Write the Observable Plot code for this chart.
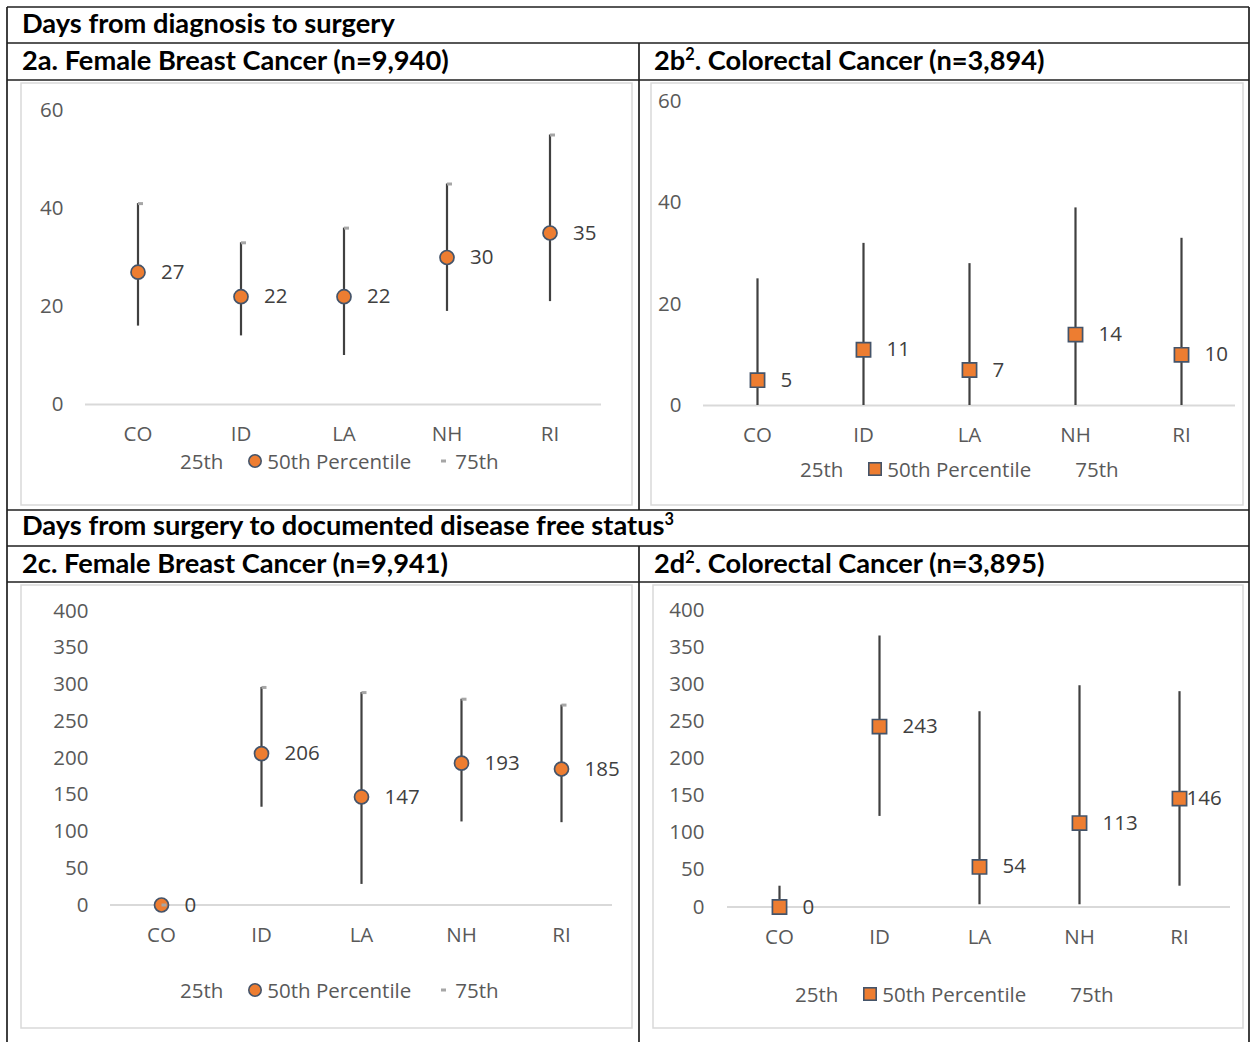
<!DOCTYPE html>
<html><head><meta charset="utf-8">
<script src="https://cdn.jsdelivr.net/npm/d3@7"></script>
<script src="https://cdn.jsdelivr.net/npm/@observablehq/plot@0.6"></script>
<style>
body{margin:0;background:#fff;width:1256px;height:1042px;overflow:hidden;position:relative;font-family:"Open Sans",sans-serif;}
#bg{position:absolute;left:0;top:0;}
.plot{position:absolute;}
.legend{position:absolute;display:flex;align-items:center;height:24px;line-height:24px;font-size:20.5px;color:#595959;white-space:nowrap;font-family:"Open Sans",sans-serif;}
.legend .sym{width:14px;height:14px;margin-right:5px;display:block;}
.legend .item{display:flex;align-items:center;margin-right:25px;}
</style></head><body>
<svg id="bg" width="1256" height="1042"></svg>
<script>
// ---- data ----
const states = ["CO", "ID", "LA", "NH", "RI"];
const breastDxP25 = [16, 14, 10, 19, 21];
const breastDxMedian = [27, 22, 22, 30, 35];
const breastDxP75 = [41, 33, 36, 45, 55];
const crcDxP25 = [0, 0, 0, 0, 0];
const crcDxMedian = [5, 11, 7, 14, 10];
const crcDxP75 = [25, 32, 28, 39, 33];
const breastDfsP25 = [0, 133, 28, 113, 112];
const breastDfsMedian = [0, 206, 147, 193, 185];
const breastDfsP75 = [0, 296, 289, 280, 272];
const crcDfsP25 = [0, 122, 3, 3, 28];
const crcDfsMedian = [0, 243, 54, 113, 146];
const crcDfsP75 = [28, 365, 263, 298, 290];
const dxTicks = [0, 20, 40, 60];
const dfsTicks = [0, 50, 100, 150, 200, 250, 300, 350, 400];
const legendLabels = ["25th", "50th Percentile", "75th"];
const section1 = "Days from diagnosis to surgery";
const section2 = "Days from surgery to documented disease free status";
const titleA = "2a. Female Breast Cancer (n=9,940)";
const titleB = ["2b", "2", ". Colorectal Cancer (n=3,894)"];
const titleC = "2c. Female Breast Cancer (n=9,941)";
const titleD = ["2d", "2", ". Colorectal Cancer (n=3,895)"];

// ---- table frame and headers ----
const NS = "http://www.w3.org/2000/svg";
const bg = document.getElementById("bg");
const hdrFont = '"Liberation Sans Narrow","Arial Narrow",Lato,"Liberation Sans",sans-serif';
const cv = document.createElement("canvas").getContext("2d");
cv.font = `bold 100px ${hdrFont}`;
const hdrSize = 100 * 373 / cv.measureText(section1).width;

function el(tag, attrs, parent) {
  const e = document.createElementNS(NS, tag);
  for (const k in attrs) e.setAttribute(k, attrs[k]);
  (parent || bg).appendChild(e);
  return e;
}
function line(x1, y1, x2, y2) {
  el("line", {x1, y1, x2, y2, stroke: "#1f1f1f", "stroke-width": 1.7});
}
function header(x, y, parts) {
  const t = el("text", {x, y, "font-family": hdrFont, "font-weight": "bold", "font-size": hdrSize, fill: "#000"});
  if (typeof parts === "string") parts = [parts];
  parts.forEach((p, i) => {
    const ts = el("tspan", {}, t);
    if (i === 1 && parts.length === 3 || (i === 1 && parts.length === 2)) {
      ts.setAttribute("font-size", hdrSize * 0.6);
      ts.setAttribute("dy", -hdrSize * 0.38);
    } else if (i === 2) {
      ts.setAttribute("dy", hdrSize * 0.38);
    }
    ts.textContent = p;
  });
}
// inner chart boxes
[[21, 83, 611, 422], [651, 83, 592, 422], [21, 585, 611, 443], [653, 585, 590, 443]].forEach(([x, y, w, h]) =>
  el("rect", {x, y, width: w, height: h, fill: "none", stroke: "#d9d9d9", "stroke-width": 1.5}));
line(7, 7, 1249, 7);
[43, 80, 510, 546, 582].forEach(y => line(7, y, 1249, y));
line(7, 7, 7, 1042);
line(1249, 7, 1249, 1042);
line(639, 43, 639, 510);
line(639, 546, 639, 1042);
header(22, 33, section1);
header(22, 70, titleA);
header(654, 70, titleB);
header(22, 535, [section2, "3"]);
header(22, 573, titleC);
header(654, 573, titleD);

// ---- panels ----
const dashSymbol = {draw(ctx) { ctx.rect(0, -1.5, 5, 3); }};

function drawPanel(cfg) {
  const rows = states.map((s, i) => ({state: s, p25: cfg.p25[i], med: cfg.med[i], p75: cfg.p75[i]}));
  const tight = cfg.tight || [];
  const marks = [
    Plot.ruleY([0], {stroke: "#d9d9d9", strokeWidth: 2}),
    Plot.axisY({ticks: cfg.ticks, tickSize: 0, tickPadding: cfg.yPad, label: null, fontSize: 20.5}),
    Plot.axisX({tickSize: 0, tickPadding: 22, label: null, fontSize: 20.5}),
    Plot.ruleX(rows, {x: "state", y1: "p25", y2: "p75", stroke: "#404040", strokeWidth: 2.2}),
    Plot.dot(rows, {x: "state", y: "med", symbol: cfg.symbol, r: cfg.r, fill: "#ED7D31", stroke: "#44546A", strokeWidth: 1.7})
  ];
  if (cfg.dash) marks.push(Plot.dot(rows, {x: "state", y: "p75", symbol: dashSymbol, fill: "#a6a6a6"}));
  marks.push(Plot.text(rows, {filter: d => !tight.includes(d.state), x: "state", y: "med", text: d => String(d.med), dx: 23, textAnchor: "start", fill: "#404040", fontSize: 20.5}));
  marks.push(Plot.text(rows, {filter: d => tight.includes(d.state), x: "state", y: "med", text: d => String(d.med), dx: 7, textAnchor: "start", fill: "#404040", fontSize: 20.5}));
  const svg = Plot.plot({
    width: cfg.width, height: cfg.height,
    marginLeft: cfg.ml, marginRight: cfg.mr, marginTop: cfg.mt, marginBottom: cfg.mb,
    x: {type: "band", domain: states, padding: 0},
    y: {domain: cfg.yDomain},
    style: {fontFamily: '"Open Sans", sans-serif', fontSize: "20.5px", color: "#595959", background: "transparent", overflow: "visible"},
    marks
  });
  svg.classList.add("plot");
  svg.style.left = cfg.left + "px";
  svg.style.top = cfg.top + "px";
  svg.style.position = "absolute";
  document.body.appendChild(svg);

  // legend
  const lg = document.createElement("div");
  lg.className = "legend";
  lg.style.left = (cfg.legX - 19) + "px";
  lg.style.top = (cfg.legY - 12) + "px";
  const syms = [
    "",
    cfg.symbol === "square"
      ? '<rect x="0.8" y="0.8" width="12.4" height="12.4" fill="#ED7D31" stroke="#44546A" stroke-width="1.6"/>'
      : '<circle cx="7" cy="7" r="6.2" fill="#ED7D31" stroke="#44546A" stroke-width="1.6"/>',
    cfg.dash ? '<rect x="5" y="5.5" width="5" height="3" fill="#a6a6a6"/>' : ""
  ];
  legendLabels.forEach((lab, i) => {
    const it = document.createElement("div");
    it.className = "item";
    it.innerHTML = `<svg class="sym" width="14" height="14">${syms[i]}</svg><span></span>`;
    it.querySelector("span").textContent = lab;
    lg.appendChild(it);
  });
  document.body.appendChild(lg);
}

drawPanel({left: 21, top: 83, width: 611, height: 370, ml: 64, mr: 31, mt: 27, mb: 49,
  yDomain: [0, 60], ticks: dxTicks, yPad: 22, p25: breastDxP25, med: breastDxMedian, p75: breastDxP75,
  symbol: "circle", r: 7, dash: true, legX: 180, legY: 461});
drawPanel({left: 651, top: 83, width: 592, height: 370, ml: 52, mr: 8, mt: 18, mb: 48,
  yDomain: [0, 60], ticks: dxTicks, yPad: 22, p25: crcDxP25, med: crcDxMedian, p75: crcDxP75,
  symbol: "square", r: 8, dash: false, legX: 800, legY: 469});
drawPanel({left: 21, top: 585, width: 611, height: 370, ml: 89, mr: 20, mt: 25.5, mb: 50.5,
  yDomain: [0, 400], ticks: dfsTicks, yPad: 22, p25: breastDfsP25, med: breastDfsMedian, p75: breastDfsP75,
  symbol: "circle", r: 7, dash: true, legX: 180, legY: 990});
drawPanel({left: 653, top: 585, width: 590, height: 370, ml: 74, mr: 13, mt: 24.5, mb: 48.5,
  yDomain: [0, 400], ticks: dfsTicks, yPad: 23, p25: crcDfsP25, med: crcDfsMedian, p75: crcDfsP75,
  symbol: "square", r: 8, dash: false, tight: ["RI"], legX: 795, legY: 994});
</script>
</body></html>
